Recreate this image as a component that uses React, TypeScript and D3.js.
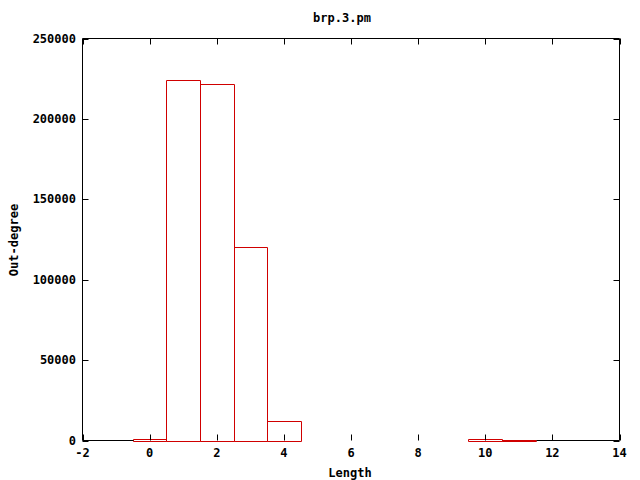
import React from "react";
import * as d3 from "d3";

const binCenters = [0, 1, 2, 3, 4, 10, 11];
const binValues = [900, 224000, 222000, 120500, 12300, 800, 600];
const xTicks = [-2, 0, 2, 4, 6, 8, 10, 12, 14];
const yTicks = [0, 50000, 100000, 150000, 200000, 250000];
const title = "brp.3.pm";
const xLabel = "Length";
const yLabel = "Out-degree";

const W = 640, H = 480;
const L = 82.5, R = 619.5, T = 38.5, B = 440.5;
const font = "'DejaVu Sans Mono', monospace";

export default function App() {
  const x = d3.scaleLinear().domain([-2, 14]).range([L, R]);
  const y = d3.scaleLinear().domain([0, 250000]).range([B, T]);
  const tl = 6;
  const px = (v: number) => Math.round(x(v)) + 0.5;
  const py = (v: number) => Math.round(y(v)) + 0.5;
  const p = d3.path();
  binCenters.forEach((c, i) => {
    const x0 = px(c - 0.5), x1 = px(c + 0.5), y0 = py(0), y1 = Math.min(py(binValues[i]), y0 - 1);
    p.moveTo(x0, y0);
    p.lineTo(x0, y1);
    p.lineTo(x1, y1);
    p.lineTo(x1, y0);
    p.closePath();
  });
  return (
    <svg width={W} height={H} style={{ position: "absolute", left: 0, top: 0, background: "#fff" }}>
      <rect x={0} y={0} width={W} height={H} fill="#fff" />
      <path d={p.toString()} fill="none" stroke="#d00000" strokeWidth={1} />
      <path d={`M${L},${T}H${R}V${B}`} fill="none" stroke="#000" strokeWidth={1} />
      <path d={`M${L},${T}V${B}`} fill="none" stroke="#000" strokeWidth={1} />
      <path d={`M${L},${B}H${px(-0.5)}M${px(11.5)},${B}H${R}`} fill="none" stroke="#000" strokeWidth={1} />
      {xTicks.map((t) => (
        <g key={t}>
          <line x1={px(t)} x2={px(t)} y1={B} y2={B - tl} stroke="#000" />
          <line x1={px(t)} x2={px(t)} y1={T} y2={T + tl} stroke="#000" />
          <text x={x(t)} y={457} textAnchor="middle" fontFamily={font} fontWeight="bold" fontSize={12}>{t}</text>
        </g>
      ))}
      {yTicks.map((t) => (
        <g key={t}>
          <line x1={L} x2={L + tl} y1={py(t)} y2={py(t)} stroke="#000" />
          <line x1={R} x2={R - tl} y1={py(t)} y2={py(t)} stroke="#000" />
          <text x={76} y={y(t) + 4} textAnchor="end" fontFamily={font} fontWeight="bold" fontSize={12}>{t}</text>
        </g>
      ))}
      <text x={342} y={22} textAnchor="middle" fontFamily={font} fontWeight="bold" fontSize={12}>{title}</text>
      <text x={350} y={477} textAnchor="middle" fontFamily={font} fontWeight="bold" fontSize={12}>{xLabel}</text>
      <text transform="translate(18,240) rotate(-90)" textAnchor="middle" fontFamily={font} fontWeight="bold" fontSize={12}>{yLabel}</text>
    </svg>
  );
}
